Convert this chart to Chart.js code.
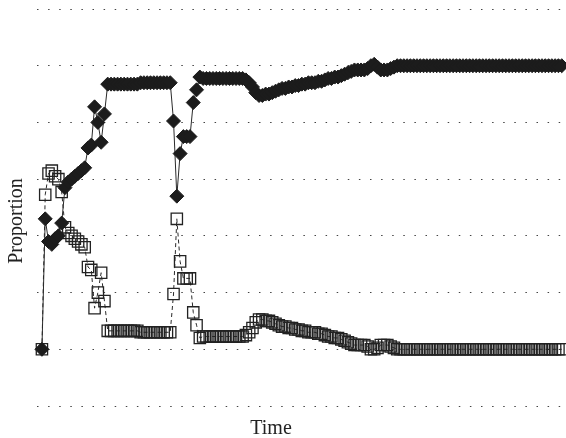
<!DOCTYPE html>
<html>
<head>
<meta charset="utf-8">
<script src="https://cdn.jsdelivr.net/npm/chart.js@4/dist/chart.umd.min.js"></script>
<style>
    html, body { margin: 0; padding: 0; background: #fff; }
    #wrap { position: relative; width: 566px; height: 438px; }
</style>
</head>
<body>
<div id="wrap"><canvas id="chart" width="566" height="438"></canvas></div>
<script>
// Proportion of the population in each state, one value per time step
const proportionFilled = [
    0, 0.46, 0.38, 0.37, 0.39, 0.40, 0.445, 0.57, 0.59, 0.60,
    0.61, 0.62, 0.63, 0.64, 0.71, 0.72, 0.855, 0.80, 0.73, 0.83,
    0.935, 0.935, 0.935, 0.935, 0.935, 0.935, 0.935, 0.935, 0.935, 0.935,
    0.94, 0.94, 0.94, 0.94, 0.94, 0.94, 0.94, 0.94, 0.94, 0.94,
    0.805, 0.54, 0.69, 0.75, 0.75, 0.75, 0.87, 0.915, 0.96, 0.955,
    0.955, 0.955, 0.955, 0.955, 0.955, 0.955, 0.955, 0.955, 0.955, 0.955,
    0.955, 0.955, 0.95, 0.94, 0.925, 0.905, 0.895, 0.895, 0.9, 0.9,
    0.905, 0.91, 0.915, 0.92, 0.92, 0.925, 0.925, 0.93, 0.93, 0.935,
    0.935, 0.94, 0.94, 0.94, 0.945, 0.945, 0.95, 0.955, 0.955, 0.96,
    0.96, 0.965, 0.97, 0.975, 0.98, 0.985, 0.985, 0.985, 0.985, 0.99,
    1.0, 1.005, 0.995, 0.985, 0.985, 0.985, 0.99, 0.995, 1, 1,
    1, 1, 1, 1, 1, 1, 1, 1, 1, 1,
    1, 1, 1, 1, 1, 1, 1, 1, 1, 1,
    1, 1, 1, 1, 1, 1, 1, 1, 1, 1,
    1, 1, 1, 1, 1, 1, 1, 1, 1, 1,
    1, 1, 1, 1, 1, 1, 1, 1, 1
];

const proportionOpen = [
    0, 0.545, 0.62, 0.63, 0.61, 0.60, 0.555, 0.43, 0.41, 0.40,
    0.39, 0.38, 0.37, 0.36, 0.29, 0.28, 0.145, 0.20, 0.27, 0.17,
    0.065, 0.065, 0.065, 0.065, 0.065, 0.065, 0.065, 0.065, 0.065, 0.065,
    0.06, 0.06, 0.06, 0.06, 0.06, 0.06, 0.06, 0.06, 0.06, 0.06,
    0.195, 0.46, 0.31, 0.25, 0.25, 0.25, 0.13, 0.085, 0.04, 0.045,
    0.045, 0.045, 0.045, 0.045, 0.045, 0.045, 0.045, 0.045, 0.045, 0.045,
    0.045, 0.045, 0.05, 0.06, 0.075, 0.095, 0.105, 0.105, 0.1, 0.1,
    0.095, 0.09, 0.085, 0.08, 0.08, 0.075, 0.075, 0.07, 0.07, 0.065,
    0.065, 0.06, 0.06, 0.06, 0.055, 0.055, 0.05, 0.045, 0.045, 0.04,
    0.04, 0.035, 0.03, 0.025, 0.02, 0.015, 0.015, 0.015, 0.015, 0.01,
    0, 0, 0.005, 0.015, 0.015, 0.015, 0.01, 0.005, 0, 0,
    0, 0, 0, 0, 0, 0, 0, 0, 0, 0,
    0, 0, 0, 0, 0, 0, 0, 0, 0, 0,
    0, 0, 0, 0, 0, 0, 0, 0, 0, 0,
    0, 0, 0, 0, 0, 0, 0, 0, 0, 0,
    0, 0, 0, 0, 0, 0, 0, 0, 0
];

// y range and grid step (no tick labels in the figure)
const yMin = -0.2;
const yMax = 1.2;
const yStep = 0.2;

const xTitle = 'Time';
const yTitle = 'Proportion';

const toPoints = (values) => values.map((v, i) => ({ x: i, y: v }));

// axis titles sit off-centre in the figure, so draw them by hand
const axisTitles = {
    id: 'axisTitles',
    afterDraw(chart) {
        const ctx = chart.ctx;
        ctx.save();
        ctx.fillStyle = '#222';
        ctx.font = '20px "Liberation Serif"';
        ctx.textAlign = 'center';
        ctx.textBaseline = 'alphabetic';
        ctx.fillText(xTitle, 271, 434);
        ctx.translate(22, 221);
        ctx.rotate(-Math.PI / 2);
        ctx.fillText(yTitle, 0, 0);
        ctx.restore();
    }
};

const ctx = document.getElementById('chart').getContext('2d');
new Chart(ctx, {
    type: 'line',
    data: {
        datasets: [
            {
                data: toPoints(proportionFilled),
                borderColor: '#2a2a2a',
                borderWidth: 1,
                pointStyle: 'rectRot',
                pointRadius: 7,
                pointBackgroundColor: '#1c1c1c',
                pointBorderColor: '#1c1c1c',
                pointBorderWidth: 1,
                tension: 0,
                clip: false,
                order: 1
            },
            {
                data: toPoints(proportionOpen),
                borderColor: '#2a2a2a',
                borderWidth: 1,
                borderDash: [4, 3],
                pointStyle: 'rect',
                pointRadius: 8,
                pointBackgroundColor: 'rgba(0,0,0,0)',
                pointBorderColor: '#222',
                pointBorderWidth: 1.3,
                tension: 0,
                clip: false,
                order: 2
            }
        ]
    },
    options: {
        responsive: false,
        animation: false,
        layout: { autoPadding: false, padding: { top: 9, right: 0, left: 0, bottom: 0 } },
        plugins: {
            legend: { display: false },
            tooltip: { enabled: false }
        },
        scales: {
            x: {
                type: 'linear',
                min: -1.5,
                max: 159.3,
                grid: { display: false },
                border: { display: false },
                ticks: { display: false },
                afterFit: (scale) => { scale.height = 32; }
            },
            y: {
                min: yMin,
                max: yMax,
                ticks: { display: false, stepSize: yStep },
                grid: { color: '#444', lineWidth: 1, drawTicks: false },
                border: { display: false, dash: [1.5, 9.6] },
                afterFit: (scale) => { scale.width = 37; }
            }
        }
    },
    plugins: [axisTitles]
});
</script>
</body>
</html>
